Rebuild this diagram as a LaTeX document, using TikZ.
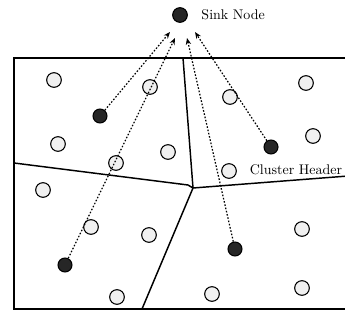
\documentclass[tikz,border=0pt]{standalone}
\usepackage{tikz}
\usetikzlibrary{positioning, arrows.meta, calc}

\begin{document}
\begin{tikzpicture}[
				x=0.75pt, y=-0.75pt,
				% --- STYLES ---
				sensor/.style={
					circle, draw, thick, fill=gray!12,
					minimum size=11pt, inner sep=0pt
				},
				head/.style={
					circle, draw, thick, fill=black!85,
					minimum size=10.5pt, inner sep=0pt
				},
				border/.style={
					draw, line width=0.8pt
				},
				cut/.style={
					draw, line width=1.1pt
				},
				route/.style={
					draw, line width=0.9pt, dash pattern=on 1.2pt off 1.3pt,
					-{Stealth[length=5pt, width=4pt]}
				},
				tag/.style={
					font=\fontsize{10.5}{12}\selectfont, inner sep=1pt
				}
				]
				\useasboundingbox (0,0) rectangle (345,323);
				
				% ==========================================
				% 1. Field and cluster boundaries
				% ==========================================
				\draw [border] (348,58) -- (14,58) -- (14,309) -- (348,309);
				
				\coordinate (junction) at (193,188);
				\draw [cut] (183,58) -- (junction);
				\draw [cut] (14,163) -- (188,185) -- (junction);
				\draw [cut] (junction) -- (348,176);
				\draw [cut] (junction) -- (142,309);
				
				% ==========================================
				% 2. Sink
				% ==========================================
				\node [head, minimum size=11pt] (sink) at (180,15) {};
				\node [tag, right=9pt of sink] (sinklabel) {Sink Node};
				
				% ==========================================
				% 3. Ordinary sensors
				% ==========================================
				\node [sensor] (s1) at (54,80) {};
				\node [sensor] (s2) at (150,87) {};
				\node [sensor] (s3) at (230,97) {};
				\node [sensor] (s4) at (306,83) {};
				\node [sensor] (s5) at (313,136) {};
				\node [sensor] (s6) at (58,144) {};
				\node [sensor] (s7) at (116,163) {};
				\node [sensor] (s8) at (168,152) {};
				\node [sensor] (s9) at (229,171) {};
				\node [sensor] (s10) at (43,190) {};
				\node [sensor] (s11) at (91,227) {};
				\node [sensor] (s12) at (149,235) {};
				\node [sensor] (s13) at (302,229) {};
				\node [sensor] (s14) at (117,297) {};
				\node [sensor] (s15) at (212,294) {};
				\node [sensor] (s16) at (302,288) {};
				
				% ==========================================
				% 4. Cluster heads
				% ==========================================
				\node [head] (ch1) at (100,116) {};
				\node [head] (ch2) at (271,147) {};
				\node [head] (ch3) at (65,265) {};
				\node [head] (ch4) at (235,249) {};
				\node [tag] (chlabel) at (296,170) {Cluster Header};
				
				% ==========================================
				% 5. Routes to the sink
				% ==========================================
				\coordinate (tip1) at (170,32);
				\coordinate (tip2) at (175,38);
				\coordinate (tip3) at (187,38);
				\coordinate (tip4) at (195,32);
				
				\draw [route] (ch1) -- (tip1);
				\draw [route] (ch3) -- (tip2);
				\draw [route] (ch4) -- (tip3);
				\draw [route] (ch2) -- (tip4);
			\end{tikzpicture}
\end{document}
